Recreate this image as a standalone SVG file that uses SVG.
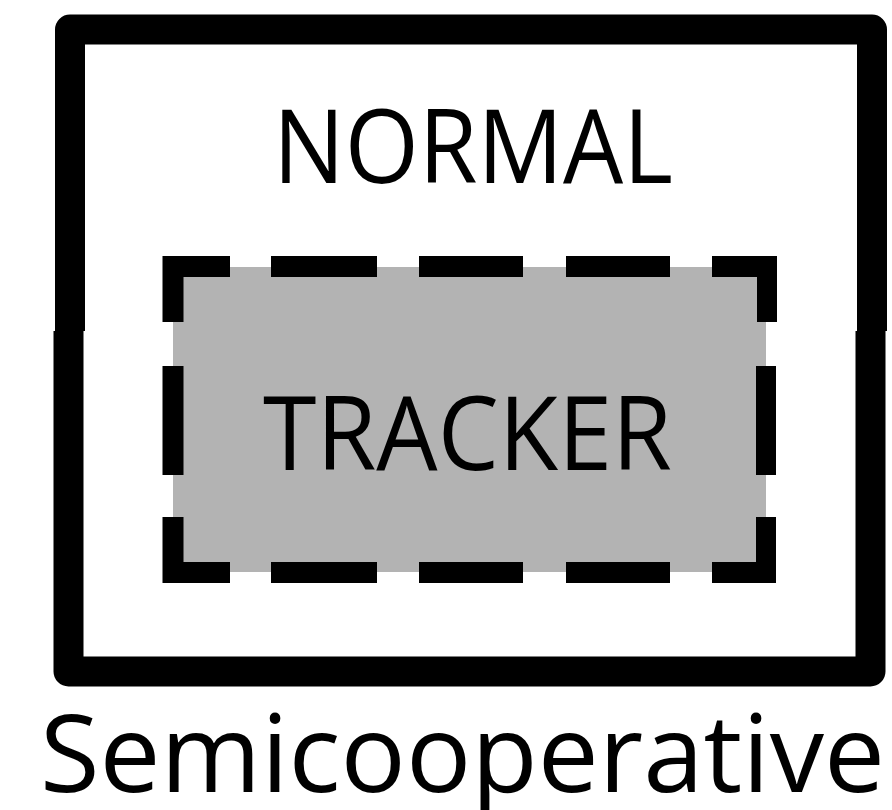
<svg xmlns="http://www.w3.org/2000/svg" width="892" height="810" viewBox="0 0 892 810">
  <style>
    .outer { fill: none; stroke: #000; stroke-width: 30; stroke-linejoin: round; stroke-linecap: butt; }
    .dash { fill: #000; }
    .lbl { font-family: "Open Sans", "Noto Sans", "Liberation Sans", sans-serif; fill: #000; }
  </style>
  <rect width="892" height="810" fill="#fff"/>
  <g id="normal">
    <path class="outer" d="M70,331 V29.5 H872 V331"/>
    <path class="outer" d="M68.5,331 V671.5 H870.5 V331"/>
    <text class="lbl" x="273" y="183" font-size="102" textLength="400" lengthAdjust="spacingAndGlyphs">NORMAL</text>
  </g>
  <g id="tracker">
    <rect x="173" y="267" width="593" height="305" fill="#b3b3b3"/>
    <g class="dash">
      <path d="M162.5,256 H230 V277 H183.5 V322 H162.5 Z"/>
      <path d="M162.5,583 H230 V562 H183.5 V517 H162.5 Z"/>
      <rect x="162.5" y="366" width="21" height="109"/>
      <path d="M777,256 H712 V277 H757 V322 H777 Z"/>
      <path d="M776,583 H712 V562 H756 V517 H776 Z"/>
      <rect x="756" y="366" width="20" height="109"/>
      <rect x="271" y="256" width="106" height="21"/>
      <rect x="419" y="256" width="104" height="21"/>
      <rect x="566" y="256" width="104" height="21"/>
      <rect x="271" y="562" width="106" height="21"/>
      <rect x="419" y="562" width="104" height="21"/>
      <rect x="566" y="562" width="104" height="21"/>
    </g>
    <text class="lbl" x="263" y="470" font-size="102" textLength="409" lengthAdjust="spacingAndGlyphs">TRACKER</text>
  </g>
  <text class="lbl" x="40" y="792" font-size="108" textLength="845" lengthAdjust="spacingAndGlyphs">Semicooperative</text>
</svg>
